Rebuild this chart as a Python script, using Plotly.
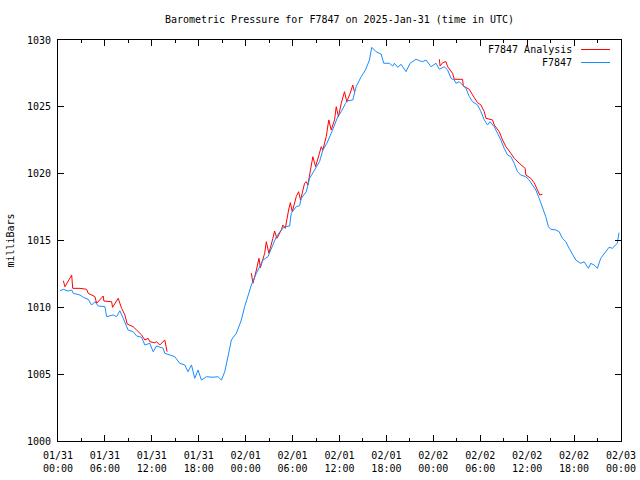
import pandas as pd
import plotly.graph_objects as go

# ---- data (hours since 2025-01-31 00:00 UTC, pressure in mb) ----
station_hours = [0.26, 0.68, 1.31, 1.75, 1.95, 2.81, 3.23, 3.87, 4.30, 4.72, 5.14, 6.00, 6.22, 7.06,
                 7.49, 7.91, 8.34, 8.97, 9.61, 10.05, 10.69, 11.11, 11.74, 12.17, 12.60, 13.44, 13.66,
                 14.30, 14.94, 15.57, 16.21, 16.63, 17.07, 17.49, 17.91, 18.34, 18.98, 19.83, 20.46,
                 20.90, 21.32, 21.74, 22.17, 22.81, 23.45, 23.87, 24.51, 24.73, 25.37, 25.79, 26.21,
                 26.85, 27.28, 27.92, 28.56, 28.98, 29.62, 29.83, 30.47, 30.89, 31.11, 31.75, 32.17,
                 32.59, 33.03, 33.45, 33.87, 34.38, 34.94, 35.36, 35.78, 36.22, 36.77, 37.06, 37.70,
                 38.13, 38.77, 39.32, 39.83, 40.12, 40.68, 41.32, 41.66, 42.38, 42.81, 43.02, 43.44,
                 43.88, 44.51, 45.03, 45.79, 46.21, 46.64, 47.07, 47.71, 48.35, 48.77, 49.40, 49.83,
                 50.26, 50.68, 50.90, 51.32, 51.74, 52.17, 52.60, 53.02, 53.66, 54.09, 54.51, 54.93,
                 55.24, 55.79, 56.21, 56.64, 57.06, 57.49, 57.92, 58.34, 58.76, 59.19, 59.83, 60.26,
                 60.68, 61.11, 61.53, 61.95, 62.38, 62.72, 63.02, 63.66, 64.09, 64.51, 64.94, 65.36,
                 65.78, 66.22, 66.85, 67.28, 67.83, 68.13, 68.55, 68.98, 69.41, 70.05, 70.47, 70.89,
                 71.32, 71.53, 71.74]
station_mb = [1011.25, 1011.35, 1011.22, 1011.30, 1011.05, 1010.92, 1010.75, 1010.60, 1010.17, 1010.42,
              1010.10, 1010.05, 1009.30, 1009.43, 1009.30, 1009.75, 1009.18, 1008.30, 1008.18, 1007.86,
              1007.76, 1007.18, 1007.31, 1006.68, 1007.11, 1006.94, 1006.56, 1006.43, 1006.31, 1005.81,
              1005.69, 1005.18, 1005.69, 1004.69, 1005.31, 1004.56, 1004.81, 1004.77, 1004.81, 1004.56,
              1005.18, 1006.31, 1007.56, 1008.06, 1009.05, 1010.05, 1011.17, 1011.67, 1012.55, 1013.04,
              1013.54, 1013.79, 1014.42, 1015.28, 1015.79, 1016.03, 1016.08, 1017.04, 1017.53, 1017.60,
              1018.16, 1018.65, 1019.65, 1020.03, 1020.52, 1020.90, 1021.77, 1022.27, 1023.02, 1023.64,
              1024.26, 1024.64, 1025.26, 1025.46, 1025.51, 1026.51, 1027.25, 1027.76, 1028.50, 1029.45,
              1029.12, 1028.95, 1028.26, 1028.26, 1028.05, 1028.26, 1027.96, 1028.18, 1027.63, 1028.26,
              1028.56, 1028.45, 1028.38, 1028.50, 1028.00, 1028.26, 1027.81, 1028.00, 1027.76, 1027.13,
              1027.01, 1026.76, 1026.88, 1026.63, 1026.39, 1025.76, 1025.38, 1025.14, 1024.64, 1024.02,
              1023.64, 1023.89, 1023.51, 1023.02, 1022.52, 1021.90, 1021.40, 1021.27, 1020.78, 1020.15,
              1019.90, 1019.77, 1019.53, 1019.15, 1018.78, 1018.16, 1017.53, 1016.78, 1016.03, 1015.84,
              1015.79, 1015.66, 1015.16, 1014.91, 1014.42, 1014.04, 1013.54, 1013.29, 1013.41, 1012.92,
              1013.29, 1013.17, 1012.92, 1013.67, 1014.16, 1014.49, 1014.42, 1014.66, 1014.79, 1015.58]

analysis_hours = [0.68, 0.89, 1.75, 1.88, 2.81, 3.66, 3.87, 4.72, 4.94, 5.78, 5.87, 6.86, 6.98, 7.70,
                  8.13, 8.55, 8.85, 9.61, 10.05, 10.69, 11.11, 11.53, 11.74, 12.38, 12.60, 13.02, 13.66,
                  13.95, None,
                  24.73, 24.93, 25.37, 25.70, 25.88, 26.43, 26.64, 26.97, 27.48, 27.70, 27.99, 28.56,
                  28.76, 29.07, 29.49, 29.71, 29.96, 30.47, 30.77, 31.02, 31.53, 31.75, 31.95, 32.39,
                  32.59, 32.94, 33.36, 33.67, 33.87, 34.30, 34.63, 34.94, 35.36, 35.58, 35.87, 36.22,
                  36.64, 36.93, 37.36, 37.70, 37.91, None,
                  48.77, 48.86, 49.19, 49.62, 49.83, 50.46, 50.68, 51.74, 51.83, 52.60, 53.02, 53.66,
                  54.09, 54.51, 54.73, 55.57, 55.79, 56.43, 56.85, 57.28, 57.92, 58.34, 58.98, 59.74,
                  59.83, 60.47, 60.89, 61.31, 61.62, 61.95]
analysis_mb = [1011.99, 1011.54, 1012.42, 1011.42, 1011.42, 1011.35, 1011.05, 1010.80, 1010.30, 1010.85,
               1010.47, 1010.42, 1010.00, 1010.68, 1009.93, 1009.43, 1008.75, 1008.55, 1008.30, 1007.93,
               1007.56, 1007.68, 1007.43, 1007.35, 1007.43, 1007.18, 1007.56, 1006.68, None,
               1012.55, 1011.80, 1012.79, 1013.67, 1012.97, 1014.04, 1014.91, 1014.04, 1015.16, 1015.71,
               1015.16, 1015.79, 1016.16, 1015.91, 1017.28, 1017.83, 1017.15, 1018.28, 1018.65, 1018.03,
               1019.28, 1019.40, 1019.15, 1020.52, 1021.27, 1020.52, 1021.40, 1022.02, 1021.77, 1022.77,
               1024.02, 1023.27, 1024.02, 1025.01, 1024.26, 1025.26, 1026.13, 1025.38, 1026.01, 1026.63,
               1026.13, None,
               1028.56, 1028.05, 1028.30, 1028.38, 1028.00, 1027.51, 1027.06, 1027.06, 1026.56, 1026.31,
               1025.89, 1025.31, 1025.14, 1024.64, 1024.14, 1024.02, 1023.64, 1023.14, 1022.52, 1022.02,
               1021.52, 1021.15, 1020.78, 1020.40, 1019.90, 1019.65, 1019.32, 1018.83, 1018.40, 1018.46]

tick_hours = [0, 6, 12, 18, 24, 30, 36, 42, 48, 54, 60, 66, 72]
tick_labels = ["01/31<br>00:00", "01/31<br>06:00", "01/31<br>12:00", "01/31<br>18:00",
               "02/01<br>00:00", "02/01<br>06:00", "02/01<br>12:00", "02/01<br>18:00",
               "02/02<br>00:00", "02/02<br>06:00", "02/02<br>12:00", "02/02<br>18:00",
               "02/03<br>00:00"]
y_ticks = [1000, 1005, 1010, 1015, 1020, 1025, 1030]

base = pd.Timestamp("2025-01-31 00:00")


def to_time(hours):
    return [None if h is None else base + pd.Timedelta(hours=h) for h in hours]


FONT = "DejaVu Sans Mono"
RED = "#ff0000"
BLUE = "#1a8cff"

fig = go.Figure()
fig.add_trace(go.Scatter(x=to_time(analysis_hours), y=analysis_mb, mode="lines",
                         name="F7847 Analysis", line=dict(color=RED, width=1),
                         connectgaps=False))
fig.add_trace(go.Scatter(x=to_time(station_hours), y=station_mb, mode="lines",
                         name="F7847", line=dict(color=BLUE, width=1)))

minor_hours = list(range(3, 72, 6))

fig.update_layout(
    width=640, height=480,
    margin=dict(l=58, r=19, t=40, b=39),
    paper_bgcolor="white", plot_bgcolor="white",
    showlegend=False,
    font=dict(family=FONT, size=10, color="black"),
    title=dict(text="Barometric Pressure for F7847 on 2025-Jan-31 (time in UTC)",
               x=339.5 / 640, xanchor="center", y=1 - 19 / 480, yanchor="middle",
               font=dict(family=FONT, size=10, color="black")),
    xaxis=dict(range=[base, base + pd.Timedelta(hours=72)],
               tickmode="array", tickvals=to_time(tick_hours), ticktext=tick_labels,
               ticks="inside", ticklen=6, tickwidth=1, tickcolor="black",
               showline=True, linecolor="black", linewidth=1, mirror="ticks",
               showgrid=False, zeroline=False, automargin=False, ticklabelstandoff=5,
               minor=dict(tickmode="array", tickvals=to_time(minor_hours), ticks="inside",
                          ticklen=3, tickcolor="black", showgrid=False),
               tickfont=dict(family=FONT, size=10)),
    yaxis=dict(range=[1000, 1030], tickmode="array", tickvals=y_ticks,
               ticks="inside", ticklen=6, tickwidth=1, tickcolor="black",
               showline=True, linecolor="black", linewidth=1, mirror="ticks",
               showgrid=False, zeroline=False, automargin=False, ticklabelstandoff=4,
               title=dict(text="milliBars", standoff=10, font=dict(family=FONT, size=10)),
               tickfont=dict(family=FONT, size=10)),
)

# legend drawn gnuplot-style: text right-aligned, line sample to its right
legend_items = [("F7847 Analysis", RED, 49.5), ("F7847", BLUE, 62.5)]
for label, color, ypix in legend_items:
    yp = 1 - (ypix - 40) / (441 - 40)
    fig.add_annotation(text=label, xref="paper", yref="paper", x=(574 - 58) / 563, y=yp,
                       xanchor="right", yanchor="middle", showarrow=False,
                       font=dict(family=FONT, size=10, color="black"))
    fig.add_shape(type="line", xref="paper", yref="paper",
                  x0=(581 - 58) / 563, x1=(610 - 58) / 563, y0=yp, y1=yp,
                  line=dict(color=color, width=1))

fig.write_html("out.html", config={"displayModeBar": False},
               post_script="document.body.style.margin='0';document.body.style.overflow='hidden';")
